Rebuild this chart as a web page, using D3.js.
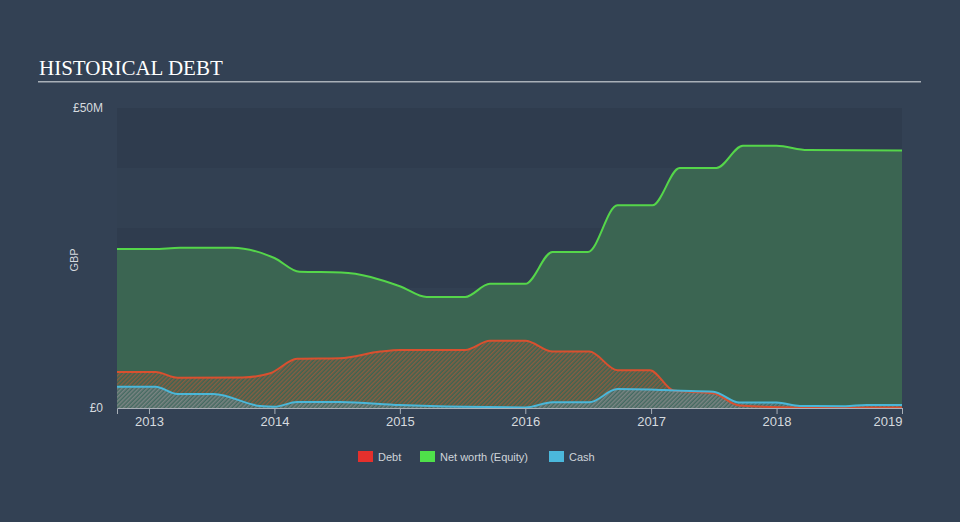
<!DOCTYPE html>
<html>
<head>
<meta charset="utf-8">
<script src="https://cdn.jsdelivr.net/npm/d3@7"></script>
<style>
  html, body { margin: 0; padding: 0; background: #334154; }
  svg { display: block; }
</style>
</head>
<body>
<script>
'use strict';
(function() {

  // net worth (equity), GBP millions
  const nwDates = ["2012-09-30","2013-01-15","2013-04-01","2013-09-01","2014-01-01","2014-03-15","2014-07-15","2015-01-01","2015-03-20","2015-07-10","2015-09-20","2016-01-01","2016-03-20","2016-07-01","2016-09-25","2017-01-05","2017-03-25","2017-07-10","2017-09-25","2018-01-01","2018-04-01","2019-01-01"];
  const nwValues = [26.5,26.5,26.7,26.7,25.0,22.7,22.6,20.3,18.5,18.5,20.7,20.7,26.0,26.0,33.8,33.8,40.0,40.0,43.7,43.7,43.0,42.9];

  // debt
  const debtDates = ["2012-09-30","2013-01-20","2013-03-25","2013-09-30","2013-12-20","2014-03-08","2014-07-10","2014-11-05","2015-01-01","2015-07-10","2015-09-20","2016-01-01","2016-03-20","2016-07-05","2016-09-25","2016-12-28","2017-03-08","2017-07-01","2017-09-15","2018-03-01","2019-01-01"];
  const debtValues = [6.0,6.0,5.05,5.1,5.8,8.2,8.3,9.4,9.67,9.67,11.2,11.2,9.4,9.4,6.3,6.3,2.9,2.45,0.4,0.1,0.1];

  // cash
  const cashDates = ["2012-09-30","2013-01-20","2013-03-25","2013-07-08","2013-11-20","2014-01-01","2014-03-08","2014-07-10","2015-01-01","2015-07-10","2016-01-01","2016-03-20","2016-07-05","2016-09-25","2016-12-28","2017-03-08","2017-07-01","2017-09-15","2018-01-01","2018-03-10","2018-07-20","2018-09-20","2019-01-01"];
  const cashValues = [3.55,3.55,2.33,2.33,0.33,0.2,1.0,1.0,0.5,0.2,0.1,0.95,0.95,3.15,3.1,2.9,2.7,0.9,0.9,0.33,0.3,0.5,0.5];

  const xTickYears = [2013, 2014, 2015, 2016, 2017, 2018, 2019];
  const yTickValues = [0, 50];
  const yTickLabels = ["£0", "£50M"];
  const legendNames = ["Debt", "Net worth (Equity)", "Cash"];

  const parse = d3.timeParse("%Y-%m-%d");
  const zip = (ds, vs) => ds.map((d, i) => ({ date: parse(d), value: vs[i] }));
  const nw = zip(nwDates, nwValues);
  const debt = zip(debtDates, debtValues);
  const cash = zip(cashDates, cashValues);

  const svg = d3.select("body").append("svg")
    .attr("width", 960)
    .attr("height", 522);

  svg.append("rect").attr("width", 960).attr("height", 522).attr("fill", "#334154");

  // title
  svg.append("text")
    .attr("x", 39)
    .attr("y", 75)
    .style("font-family", "'Liberation Serif', serif")
    .style("font-size", "21px")
    .style("fill", "#ffffff")
    .text("HISTORICAL DEBT");

  svg.append("rect")
    .attr("x", 38).attr("y", 81)
    .attr("width", 883).attr("height", 1.5)
    .attr("fill", "#a9b0b8");

  // scales
  const x = d3.scaleTime()
    .domain([parse("2012-09-30"), parse("2019-01-01")])
    .range([117, 902]);
  const y = d3.scaleLinear()
    .domain([0, 50])
    .range([408, 108]);

  // alternating bands
  const bands = d3.range(0, 50, 10);
  svg.selectAll(".band")
    .data(bands)
    .enter().append("rect")
    .attr("class", "band")
    .attr("x", 117)
    .attr("width", 785)
    .attr("y", d => y(d + 10))
    .attr("height", d => y(d) - y(d + 10))
    .attr("fill", (d, i) => i % 2 === 0 ? "#2f3c4e" : "#324052");

  // patterns
  const defs = svg.append("defs");
  function hatch(id, color, opacity) {
    const p = defs.append("pattern")
      .attr("id", id)
      .attr("patternUnits", "userSpaceOnUse")
      .attr("width", 3).attr("height", 3)
      .attr("patternTransform", "rotate(45)");
    p.append("rect").attr("width", 1.5).attr("height", 3)
      .attr("fill", color).attr("opacity", opacity);
  }
  hatch("debtHatch", "#d8542f", 0.5);
  hatch("cashHatch", "#8fb2c4", 0.4);

  const curve = d3.curveMonotoneX;
  const area = d3.area().curve(curve)
    .x(d => x(d.date)).y0(y(0)).y1(d => y(d.value));
  const line = d3.line().curve(curve)
    .x(d => x(d.date)).y(d => y(d.value));

  // net worth area
  svg.append("path").datum(nw)
    .attr("d", area)
    .attr("fill", "#3b6552");

  // debt area
  svg.append("path").datum(debt)
    .attr("d", area)
    .attr("fill", "url(#debtHatch)");

  // cash area
  svg.append("path").datum(cash)
    .attr("d", area)
    .attr("fill", "#4a6f72")
    .attr("opacity", 0.5);
  svg.append("path").datum(cash)
    .attr("d", area)
    .attr("fill", "url(#cashHatch)");

  // lines
  svg.append("path").datum(nw).attr("d", line)
    .attr("fill", "none").attr("stroke", "#55d64a").attr("stroke-width", 2);
  svg.append("path").datum(debt).attr("d", line)
    .attr("fill", "none").attr("stroke", "#d9502f").attr("stroke-width", 2);
  svg.append("path").datum(cash).attr("d", line)
    .attr("fill", "none").attr("stroke", "#4ab7d9").attr("stroke-width", 2);

  // x axis
  const xAxis = d3.axisBottom(x)
    .tickValues(xTickYears.map(yr => new Date(yr, 0, 1)))
    .tickFormat(d3.timeFormat("%Y"))
    .tickSizeOuter(0)
    .tickSize(6)
    .tickPadding(3);
  const gx = svg.append("g")
    .attr("transform", "translate(0,408)")
    .call(xAxis);
  gx.select(".domain").attr("stroke", "#a9b0b8");
  gx.selectAll(".tick line").attr("stroke", "#a9b0b8");
  gx.selectAll(".tick text")
    .style("font-family", "'Liberation Sans', Arial, sans-serif")
    .style("font-size", "13px")
    .style("fill", "#d6dadf");
  gx.selectAll(".tick text").filter((d, i) => i === xTickYears.length - 1)
    .attr("text-anchor", "end");

  // y labels
  svg.selectAll(".ylab")
    .data(yTickValues)
    .enter().append("text")
    .attr("class", "ylab")
    .attr("x", 103)
    .attr("y", d => y(d) + 4)
    .attr("text-anchor", "end")
    .style("font-family", "'Liberation Sans', Arial, sans-serif")
    .style("font-size", "12px")
    .style("fill", "#d6dadf")
    .text((d, i) => yTickLabels[i]);

  svg.append("text")
    .attr("transform", "translate(78,260)rotate(-90)")
    .attr("text-anchor", "middle")
    .style("font-family", "'Liberation Sans', Arial, sans-serif")
    .style("font-size", "11px")
    .style("fill", "#d6dadf")
    .text("GBP");

  // legend
  const legendColors = ["#e5302c", "#4fe04a", "#4bb8dc"];
  const legendX = [358, 420, 549];
  const lg = svg.selectAll(".leg")
    .data(legendNames)
    .enter().append("g")
    .attr("class", "leg")
    .attr("transform", (d, i) => "translate(" + legendX[i] + ",451)");
  lg.append("rect")
    .attr("width", 15).attr("height", 11)
    .attr("fill", (d, i) => legendColors[i]);
  lg.append("text")
    .attr("x", 20).attr("y", 10)
    .style("font-family", "'Liberation Sans', Arial, sans-serif")
    .style("font-size", "11px")
    .style("fill", "#cfd4da")
    .text(d => d);
})();
</script>
</body>
</html>
